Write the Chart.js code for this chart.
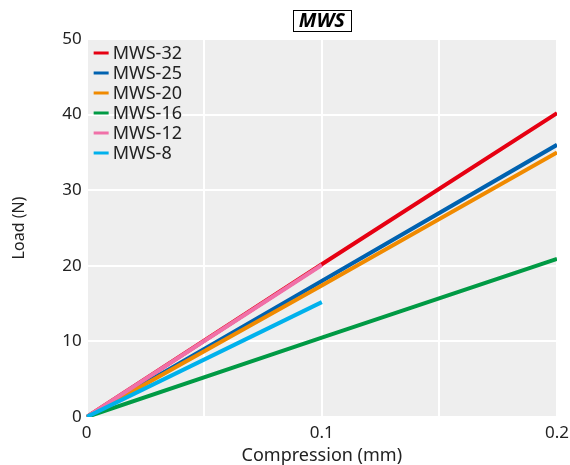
<!DOCTYPE html>
<html>
<head>
<meta charset="utf-8">
<script src="https://cdn.jsdelivr.net/npm/chart.js@4.4.0/dist/chart.umd.min.js"></script>
<style>
  html, body { margin: 0; padding: 0; background: #fff; }
  #wrap { width: 570px; height: 465px; }
</style>
</head>
<body>
<div id="wrap"><canvas id="lineChart"></canvas></div>
<script>
// compression points (mm)
const compression = [0, 0.1, 0.2];
const xTickLabels = ['0', '0.1', '0.2'];

const seriesNames = ['MWS-32', 'MWS-25', 'MWS-20', 'MWS-16', 'MWS-12', 'MWS-8'];
const seriesColors = ['#e60012', '#0062b0', '#f08a00', '#009a44', '#f070a8', '#00b1ec'];

// load (N) for each spring, null where not measured
const mws32 = [0, 20.2, 40.2];
const mws25 = [0, 18.0, 36.0];
const mws20 = [0, 17.4, 35.0];
const mws16 = [0, 10.5, 20.9];
const mws12 = [0, 20.1, null];
const mws8 = [0, 15.2, null];

const seriesValues = [mws32, mws25, mws20, mws16, mws12, mws8];
const chartTitle = 'MWS';
const FONT = '"Noto Sans", sans-serif';

// grey panel behind the plot
const plotBackground = {
    id: 'plotBackground',
    beforeDraw(chart) {
        const { ctx, chartArea } = chart;
        ctx.save();
        ctx.fillStyle = '#eeeeee';
        ctx.fillRect(chartArea.left, chartArea.top, chartArea.right - chartArea.left, chartArea.bottom - chartArea.top);
        ctx.restore();
    }
};

// boxed title above the plot + legend in the top-left corner of the plot
const decorations = {
    id: 'decorations',
    afterDraw(chart) {
        const { ctx, chartArea } = chart;
        ctx.save();

        // title
        ctx.font = 'italic bold 20px ' + FONT;
        ctx.fillStyle = '#000';
        ctx.textAlign = 'center';
        ctx.textBaseline = 'middle';
        const cx = (chartArea.left + chartArea.right) / 2;
        const cy = 20;
        const w = ctx.measureText(chartTitle).width;
        ctx.fillText(chartTitle, cx, cy + 1);
        ctx.strokeStyle = '#000';
        ctx.lineWidth = 1;
        ctx.strokeRect(Math.round(cx - w / 2 - 6) + 0.5, Math.round(cy - 10) + 0.5, Math.round(w + 12), 21);

        // legend
        ctx.font = '18px ' + FONT;
        ctx.textAlign = 'left';
        chart.data.datasets.forEach((ds, i) => {
            const y = chartArea.top + 14 + i * 20;
            ctx.strokeStyle = ds.borderColor;
            ctx.lineWidth = 3;
            ctx.beginPath();
            ctx.moveTo(chartArea.left + 7, y);
            ctx.lineTo(chartArea.left + 22, y);
            ctx.stroke();
            ctx.fillStyle = '#222';
            ctx.fillText(ds.label, chartArea.left + 26, y + 1);
        });
        ctx.restore();
    }
};

const datasets = seriesNames.map((name, i) => ({
    label: name,
    data: compression.map((x, j) => ({ x: x, y: seriesValues[i][j] })),
    borderColor: seriesColors[i],
    backgroundColor: seriesColors[i],
    borderWidth: 4,
    pointRadius: 0,
    fill: false,
    spanGaps: false,
    order: seriesNames.length - i
}));

const ctx = document.getElementById('lineChart').getContext('2d');
const chart = new Chart(ctx, {
    type: 'line',
    data: { datasets: datasets },
    plugins: [plotBackground, decorations],
    options: {
        responsive: true,
        maintainAspectRatio: false,
        animation: false,
        layout: { padding: { left: 10, right: 0, top: 39, bottom: 0 } },
        plugins: {
            title: { display: false },
            legend: { display: false },
            tooltip: { enabled: false }
        },
        scales: {
            x: {
                type: 'linear',
                min: 0,
                max: 0.2,
                border: { display: false },
                grid: { color: '#ffffff', lineWidth: 2, drawTicks: false },
                afterFit: (scale) => { scale.paddingRight = 13; },
                ticks: {
                    stepSize: 0.05,
                    padding: 6,
                    color: '#222',
                    font: { family: FONT, size: 17 },
                    maxRotation: 0,
                    callback: (value) => {
                        const k = Math.round(value * 20);
                        return k % 2 === 0 ? xTickLabels[k / 2] : '';
                    }
                },
                title: {
                    display: true,
                    text: 'Compression (mm)',
                    color: '#222',
                    font: { family: FONT, size: 18 },
                    padding: { top: -4, bottom: -2 }
                }
            },
            y: {
                min: 0,
                max: 50,
                border: { display: false },
                grid: { color: '#ffffff', lineWidth: 2, drawTicks: false },
                ticks: {
                    stepSize: 10,
                    padding: 5,
                    color: '#222',
                    font: { family: FONT, size: 17 }
                },
                title: {
                    display: true,
                    text: 'Load (N)',
                    color: '#222',
                    font: { family: FONT, size: 16 },
                    padding: { top: 0, bottom: 28 }
                }
            }
        }
    }
});
</script>
</body>
</html>
